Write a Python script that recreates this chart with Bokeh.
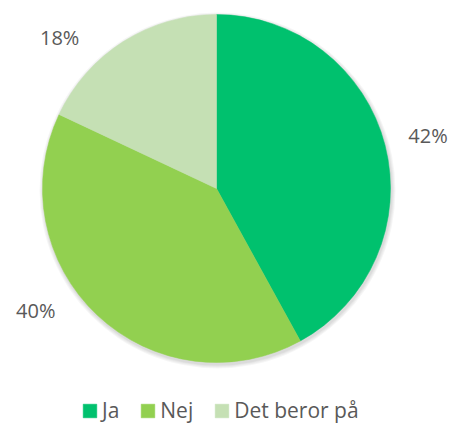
import math
from bokeh.plotting import figure
from bokeh.models import ColumnDataSource, Range1d, Legend, LegendItem
from bokeh.core.properties import value
from bokeh.embed import file_html
from bokeh.resources import INLINE

categories = ["Ja", "Nej", "Det beror på"]
shares = [42, 40, 18]
colors = ["#00C16E", "#92D050", "#C5E0B4"]

# layout (image-pixel-like data coords; y negative downward)
CX, CY, R = 216, -188, 174
label_angles_deg = [76, 236, 314]   # clockwise from top, Excel "best fit" positions
label_radius = 218

total = sum(shares)
starts, ends = [], []
cum = 0.0
for s in shares:
    starts.append(math.pi / 2 - 2 * math.pi * cum / total)
    cum += s
    ends.append(math.pi / 2 - 2 * math.pi * cum / total)

src = ColumnDataSource(dict(
    cat=categories, start=starts, end=ends, color=colors,
    x=[CX] * 3, y=[CY] * 3,
))

p = figure(width=452, height=423, output_backend="svg", toolbar_location=None,
           x_range=Range1d(0, 452), y_range=Range1d(-423, 0),
           min_border=0, outline_line_color=None)
p.axis.visible = False
p.grid.visible = False
p.background_fill_color = None
p.border_fill_color = None

# soft shadow
for dr in (4, 3, 2, 1):
    p.circle(x=[CX + 1], y=[CY - 2], radius=R + dr, fill_color="#000000",
             fill_alpha=0.035, line_color=None)

r = p.wedge(x="x", y="y", radius=R, start_angle="start", end_angle="end",
            direction="clock", fill_color="color", line_color="color", line_width=0.5,
            source=src)

lab_x, lab_y, lab_t = [], [], []
for a, s in zip(label_angles_deg, shares):
    t = math.radians(a)
    lab_x.append(CX + label_radius * math.sin(t))
    lab_y.append(CY + label_radius * math.cos(t))
    lab_t.append(f"{s}%")
p.text(x=lab_x, y=lab_y, text=lab_t, text_font=value("Open Sans"), text_font_size="20px",
       text_color="#595959", text_align="center", text_baseline="middle")

legend = Legend(items=[LegendItem(label=c, renderers=[r], index=i) for i, c in enumerate(categories)],
                orientation="horizontal", location=(81, -1),
                label_text_font="Open Sans", label_text_font_size="21px", label_text_color="#595959",
                glyph_width=17, glyph_height=17, label_standoff=4, spacing=20,
                padding=0, margin=0, border_line_color=None, background_fill_alpha=0,
                label_width=0, label_height=17)
p.add_layout(legend, "center")

open("out.html", "w").write(file_html(p, INLINE))
